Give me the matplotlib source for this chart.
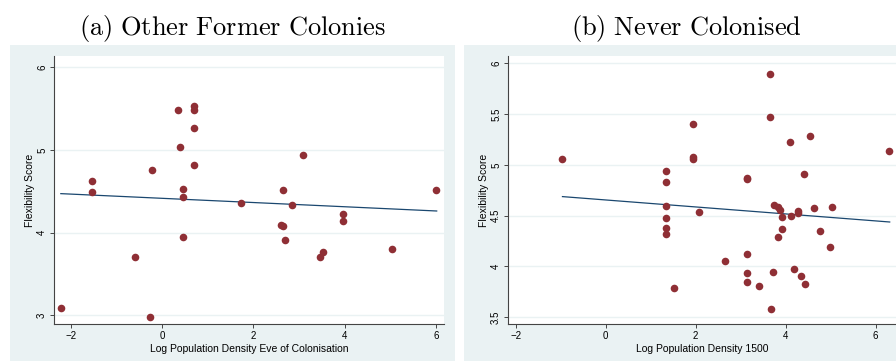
import matplotlib.pyplot as plt
from matplotlib.patches import Rectangle

plt.rcParams['font.family'] = ['Liberation Sans', 'DejaVu Sans']
plt.rcParams['mathtext.fontset'] = 'cm'

# (a) Other Former Colonies
dens_a = [-2.22, -1.54, -1.54, -0.60, -0.23, -0.26, 0.35, 0.39, 0.45, 0.45, 0.45,
          0.69, 0.69, 0.69, 0.69, 1.72, 2.61, 2.66, 2.65, 2.70, 2.85, 3.09, 3.47,
          3.52, 3.97, 3.97, 5.05, 6.01]
flex_a = [3.085, 4.625, 4.49, 3.706, 4.758, 2.976, 5.488, 5.036, 4.524, 4.431, 3.944,
          5.532, 5.484, 5.27, 4.819, 4.359, 4.093, 4.081, 4.516, 3.907, 4.331, 4.944,
          3.702, 3.762, 4.222, 4.145, 3.802, 4.516]
fit_x_a = [-2.22, 6.02]
fit_y_a = [4.472, 4.262]

# (b) Never Colonised
dens_b = [-0.96, 1.33, 1.33, 1.33, 1.33, 1.33, 1.33, 1.52, 1.94, 1.94, 1.94, 2.07,
          2.65, 3.14, 3.15, 3.15, 3.15, 3.15, 3.41, 3.64, 3.64, 3.67, 3.72, 3.74,
          3.82, 3.87, 3.92, 3.92, 3.82, 4.10, 4.12, 4.19, 4.27, 4.27, 4.33, 4.40,
          4.43, 4.54, 4.62, 4.77, 4.99, 5.02, 6.29]
flex_b = [5.058, 4.944, 4.835, 4.596, 4.481, 4.376, 4.32, 3.792, 5.406, 5.075, 5.055,
          4.54, 4.051, 4.868, 4.862, 4.123, 3.94, 3.844, 3.805, 5.892, 5.472, 3.582,
          3.943, 4.602, 4.589, 4.556, 4.488, 4.369, 4.294, 5.226, 4.494, 3.972, 4.55,
          4.53, 3.907, 4.914, 3.828, 5.288, 4.573, 4.353, 4.196, 4.586, 5.137]
fit_x_b = [-0.96, 6.31]
fit_y_b = [4.688, 4.438]

bg = '#EAF2F3'
dot = '#8F2F35'
navy = '#1A476F'

fig = plt.figure(figsize=(8.96, 3.61), dpi=100)
fig.patch.set_facecolor('white')

# light panels behind each graph
H = 361.0
W = 896.0
fig.patches.append(Rectangle((10 / W, 0), 445 / W, (H - 45) / H, transform=fig.transFigure,
                             facecolor=bg, edgecolor='none', zorder=-5))
fig.patches.append(Rectangle((464 / W, 0), 432 / W, (H - 45) / H, transform=fig.transFigure,
                             facecolor=bg, edgecolor='none', zorder=-5))

ax1 = fig.add_axes([54 / W, 37 / H, 390 / W, 268 / H])
ax2 = fig.add_axes([508 / W, 37 / H, 388 / W, 268 / H])


def style(ax, x, y, fx, fy, xlabel, yticks, ylim, xlim):
    ax.set_facecolor('white')
    ax.scatter(x, y, s=30, color=dot, zorder=3, linewidths=0)
    ax.plot(fx, fy, color=navy, lw=0.9, zorder=2)
    ax.set_xlim(*xlim)
    ax.set_ylim(*ylim)
    ax.set_xticks([-2, 0, 2, 4, 6])
    ax.set_yticks(yticks)
    ax.set_yticklabels([f'{t:g}' for t in yticks], rotation=90, va='center')
    for t in yticks:
        ax.axhline(t, color=bg, lw=1.0, zorder=1)
    for s in ['top', 'right']:
        ax.spines[s].set_visible(False)
    for s in ['left', 'bottom']:
        ax.spines[s].set_color('#444444')
        ax.spines[s].set_linewidth(0.8)
    ax.tick_params(labelsize=7, length=3, width=0.7, color='#444444', pad=2)
    ax.set_xlabel(xlabel, fontsize=7.5, labelpad=2)
    ax.set_ylabel('Flexibility Score', fontsize=7.5, labelpad=1.5)


style(ax1, dens_a, flex_a, fit_x_a, fit_y_a, 'Log Population Density Eve of Colonisation',
      [3, 4, 5, 6], (2.895, 6.137), (-2.37, 6.18))
style(ax2, dens_b, flex_b, fit_x_b, fit_y_b, 'Log Population Density 1500',
      [3.5, 4, 4.5, 5, 5.5, 6], (3.434, 6.072), (-2.17, 6.45))

fig.text(232 / W, 1 - 28 / H, r'$\mathrm{(a)\ Other\ Former\ Colonies}$', fontsize=19,
         ha='center', va='center')
fig.text(686 / W, 1 - 28 / H, r'$\mathrm{(b)\ Never\ Colonised}$', fontsize=19,
         ha='center', va='center')

plt.savefig('out.png', dpi=100)
